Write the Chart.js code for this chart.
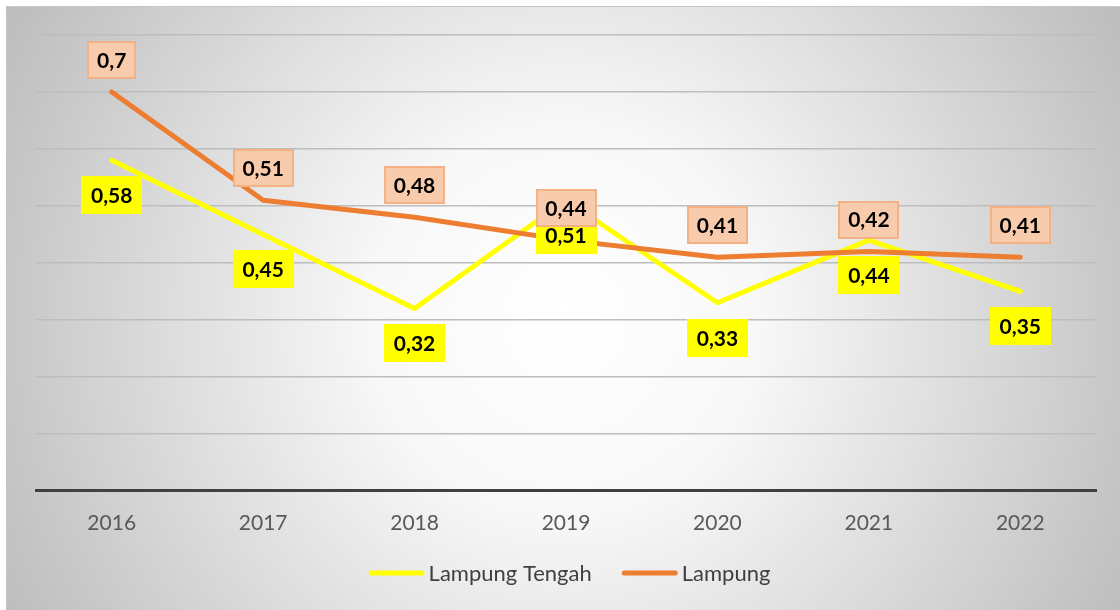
<!DOCTYPE html>
<html><head><meta charset="utf-8">
<script src="https://cdn.jsdelivr.net/npm/chart.js@4"></script>
<style>html,body{margin:0;padding:0;background:#fff;overflow:hidden}</style>
</head><body>
<canvas id="c" width="1120" height="610" style="display:block;width:1120px;height:610px"></canvas>
<script>
const years = ['2016', '2017', '2018', '2019', '2020', '2021', '2022'];
const lampungTengah = [0.58, 0.45, 0.32, 0.51, 0.33, 0.44, 0.35];
const lampung = [0.70, 0.51, 0.48, 0.44, 0.41, 0.42, 0.41];
const seriesNames = ['Lampung Tengah', 'Lampung'];
const yMin = 0, yMax = 0.8, yStep = 0.1;

const fmt = v => String(v).replace('.', ',');

const bgPlugin = {
  id: 'bg',
  beforeDraw(chart) {
    const ctx = chart.ctx, W = chart.width, H = chart.height;
    ctx.save();
    ctx.fillStyle = '#ffffff';
    ctx.fillRect(0, 0, W, H);
    const g = ctx.createRadialGradient(565, 320, 0, 565, 320, 640);
    g.addColorStop(0, '#ffffff');
    g.addColorStop(0.3, '#f8f8f8');
    g.addColorStop(1, '#bcbcbc');
    ctx.fillStyle = g;
    ctx.fillRect(6, 6, W - 6, H - 6);
    ctx.strokeStyle = '#c6c6c6';
    ctx.lineWidth = 1;
    ctx.beginPath();
    ctx.moveTo(6.5, H); ctx.lineTo(6.5, 6.5); ctx.lineTo(W, 6.5);
    ctx.stroke();
    ctx.restore();
  }
};

const labelPlugin = {
  id: 'vlabels',
  afterDatasetsDraw(chart) {
    const ctx = chart.ctx;
    ctx.save();
    ctx.font = 'bold 21px Lato';
    ctx.textAlign = 'center';
    ctx.textBaseline = 'middle';
    const cfg = [
      {ds: 0, dy: 35, fill: '#FFFF00', stroke: null},
      {ds: 1, dy: -32, fill: '#F8CBAD', stroke: '#F4B183'}
    ];
    cfg.forEach(c => {
      const meta = chart.getDatasetMeta(c.ds);
      const data = chart.data.datasets[c.ds].data;
      meta.data.forEach((pt, i) => {
        const txt = fmt(data[i]);
        const w = Math.round(ctx.measureText(txt).width + 20), h = 38;
        const x0 = Math.round(pt.x - w / 2), y0 = Math.round(pt.y + c.dy - h / 2);
        ctx.fillStyle = c.fill;
        ctx.fillRect(x0, y0, w, h);
        if (c.stroke) {
          ctx.strokeStyle = c.stroke;
          ctx.lineWidth = 2;
          ctx.strokeRect(x0 + 1, y0 + 1, w - 2, h - 2);
        }
        ctx.fillStyle = '#000000';
        ctx.fillText(txt, pt.x, pt.y + c.dy + 1);
      });
    });
    ctx.restore();
  }
};

const legendPlugin = {
  id: 'customLegend',
  afterDraw(chart) {
    const ctx = chart.ctx;
    const ds = chart.data.datasets;
    ctx.save();
    ctx.font = '22px Lato';
    ctx.textBaseline = 'middle';
    ctx.textAlign = 'left';
    const lineLen = 51, cap = 2.5, gapText = 4, gapItem = 30;
    const widths = ds.map(d => ctx.measureText(d.label).width);
    let total = 0;
    ds.forEach((d, i) => { total += lineLen + 2 * cap + gapText + widths[i] + (i < ds.length - 1 ? gapItem : 0); });
    let x = 569.5 - total / 2;
    const y = 573;
    ds.forEach((d, i) => {
      ctx.strokeStyle = d.borderColor;
      ctx.lineWidth = 5;
      ctx.lineCap = 'round';
      ctx.beginPath();
      ctx.moveTo(x + cap, y);
      ctx.lineTo(x + cap + lineLen, y);
      ctx.stroke();
      x += lineLen + 2 * cap + gapText;
      ctx.fillStyle = '#404040';
      ctx.fillText(d.label, x, y + 1);
      x += widths[i] + gapItem;
    });
    ctx.restore();
  }
};

new Chart(document.getElementById('c'), {
  type: 'line',
  data: {
    labels: years,
    datasets: [
      {label: seriesNames[0], data: lampungTengah, borderColor: '#FFFF00', backgroundColor: '#FFFF00',
       borderWidth: 5, pointRadius: 0, tension: 0, borderCapStyle: 'round', borderJoinStyle: 'round', order: 1},
      {label: seriesNames[1], data: lampung, borderColor: '#ED7D31', backgroundColor: '#ED7D31',
       borderWidth: 5, pointRadius: 0, tension: 0, borderCapStyle: 'round', borderJoinStyle: 'round', order: 0}
    ]
  },
  options: {
    responsive: false,
    devicePixelRatio: 1,
    animation: false,
    layout: {padding: {left: 36, right: 24, top: 35, bottom: 62}},
    plugins: {
      tooltip: {enabled: false},
      legend: {display: false}
    },
    scales: {
      x: {
        offset: true,
        grid: {display: false},
        border: {display: true, color: '#404040', width: 3},
        ticks: {color: '#595959', font: {family: 'Lato', size: 21}, padding: 12}
      },
      y: {
        min: yMin, max: yMax,
        ticks: {display: false, stepSize: yStep},
        grid: {color: '#bdbdbd', lineWidth: 1.5, drawTicks: false},
        border: {display: false}
      }
    }
  },
  plugins: [bgPlugin, labelPlugin, legendPlugin]
});
</script>
</body></html>
